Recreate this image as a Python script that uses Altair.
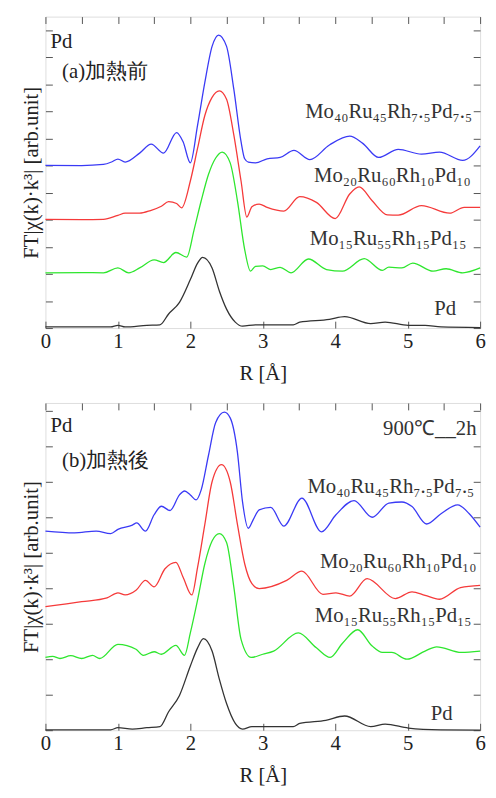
import altair as alt
import pandas as pd

FONT = "Liberation Serif"
SERIES = ["Mo40Ru45Rh7.5Pd7.5", "Mo20Ru60Rh10Pd10", "Mo15Ru55Rh15Pd15", "Pd"]
COLORS = ["#3a3af5", "#f53a3a", "#2ee62e", "#333333"]

# ---------------- (a) before heating ----------------
a_blue_r = [0, 0.5, 0.8, 0.92, 1.0, 1.1, 1.3, 1.46, 1.63, 1.81, 1.9, 2.0, 2.1, 2.2, 2.3, 2.39, 2.5, 2.6, 2.7, 2.75, 2.8, 2.9, 3.06, 3.24, 3.43, 3.65, 3.92, 4.2, 4.38, 4.6, 4.87, 5.19, 5.44, 5.76, 6.0]
a_blue_y = [6.01, 6.0, 6.04, 6.14, 6.24, 6.13, 6.46, 6.79, 6.46, 7.22, 6.88, 6.1, 7.49, 9.07, 10.4, 10.82, 10.4, 8.82, 6.88, 6.25, 6.13, 6.1, 6.25, 6.3, 6.56, 6.22, 6.76, 7.09, 6.82, 6.3, 6.6, 6.42, 6.5, 6.19, 6.73]

a_red_r = [0, 0.5, 0.8, 1.0, 1.1, 1.3, 1.45, 1.6, 1.7, 1.81, 1.88, 2.0, 2.1, 2.2, 2.3, 2.4, 2.5, 2.6, 2.7, 2.78, 2.85, 2.95, 3.06, 3.29, 3.51, 3.74, 4.0, 4.2, 4.33, 4.51, 4.72, 4.87, 5.19, 5.58, 5.78, 6.0]
a_red_y = [4.01, 4.0, 4.01, 4.16, 4.24, 4.24, 4.34, 4.5, 4.67, 4.6, 4.44, 5.43, 6.64, 7.85, 8.52, 8.76, 8.45, 7.13, 5.43, 4.1, 4.48, 4.58, 4.46, 4.32, 4.85, 4.64, 4.04, 4.95, 5.21, 4.7, 4.18, 4.17, 4.52, 4.24, 4.46, 4.46]

a_green_r = [0, 0.5, 0.8, 1.0, 1.15, 1.3, 1.5, 1.63, 1.8, 1.95, 2.05, 2.15, 2.25, 2.35, 2.44, 2.55, 2.65, 2.75, 2.83, 2.9, 3.0, 3.11, 3.24, 3.39, 3.63, 3.88, 4.1, 4.4, 4.65, 4.74, 4.92, 5.07, 5.35, 5.53, 5.76, 6.0]
a_green_y = [2.04, 2.05, 2.04, 2.22, 2.04, 2.22, 2.52, 2.42, 2.79, 2.62, 3.61, 4.7, 5.67, 6.28, 6.5, 6.1, 4.7, 2.9, 2.1, 2.28, 2.3, 2.16, 2.24, 2.04, 2.55, 2.16, 2.1, 2.56, 2.13, 2.25, 2.22, 2.4, 2.1, 2.19, 2.04, 2.22]

a_black_r = [0, 0.9, 1.0, 1.1, 1.4, 1.58, 1.7, 1.85, 2.0, 2.1, 2.17, 2.3, 2.4, 2.5, 2.62, 2.72, 2.9, 3.42, 3.51, 3.92, 4.13, 4.49, 4.69, 5.01, 5.24, 5.46, 6.0]
a_black_y = [0.04, 0.04, 0.1, 0.04, 0.1, 0.12, 0.52, 0.95, 1.79, 2.4, 2.61, 2.22, 1.37, 0.7, 0.22, 0.07, 0.12, 0.12, 0.22, 0.32, 0.42, 0.16, 0.22, 0.1, 0.1, 0.04, 0.02]

# ---------------- (b) after heating ----------------
b_blue_r = [0, 0.4, 0.7, 0.9, 1.0, 1.2, 1.26, 1.38, 1.5, 1.6, 1.72, 1.85, 1.92, 2.0, 2.08, 2.15, 2.25, 2.35, 2.47, 2.55, 2.65, 2.72, 2.8, 2.87, 2.95, 3.11, 3.29, 3.54, 3.81, 4.01, 4.26, 4.51, 4.74, 4.92, 5.06, 5.26, 5.46, 5.69, 5.85, 6.0]
b_blue_y = [5.61, 5.56, 5.61, 5.54, 5.66, 5.78, 5.84, 5.61, 6.07, 6.31, 6.19, 6.63, 6.74, 6.63, 6.49, 6.77, 7.74, 8.67, 8.96, 8.8, 7.83, 6.44, 5.69, 5.94, 6.21, 6.28, 5.75, 6.54, 5.59, 6.07, 6.47, 6.0, 6.4, 6.43, 6.3, 5.81, 6.1, 6.35, 6.1, 5.72]

b_red_r = [0, 0.5, 0.85, 1.0, 1.1, 1.25, 1.38, 1.5, 1.65, 1.8, 1.9, 2.02, 2.1, 2.2, 2.3, 2.43, 2.55, 2.65, 2.75, 2.85, 2.95, 3.33, 3.54, 3.83, 4.01, 4.2, 4.44, 4.83, 5.06, 5.24, 5.44, 5.73, 6.0]
b_red_y = [3.48, 3.62, 3.73, 3.87, 3.81, 3.94, 4.22, 4.04, 4.55, 4.73, 4.31, 3.81, 4.59, 5.8, 7.0, 7.48, 7.0, 5.8, 4.69, 4.13, 3.99, 4.22, 4.48, 3.83, 3.87, 3.78, 4.27, 3.71, 3.9, 3.8, 3.69, 4.02, 4.08]

b_green_r = [0, 0.1, 0.2, 0.35, 0.5, 0.65, 0.75, 1.0, 1.25, 1.35, 1.5, 1.6, 1.8, 1.92, 2.0, 2.1, 2.2, 2.3, 2.4, 2.5, 2.6, 2.7, 2.84, 3.0, 3.15, 3.49, 3.74, 3.93, 4.1, 4.31, 4.51, 4.65, 4.78, 4.99, 5.24, 5.4, 5.74, 6.0]
b_green_y = [2.05, 2.08, 2.02, 2.1, 2.02, 2.11, 2.02, 2.42, 2.28, 2.11, 2.21, 2.14, 2.39, 2.11, 2.74, 3.67, 4.69, 5.33, 5.54, 5.29, 4.04, 2.56, 2.05, 2.14, 2.23, 2.74, 2.32, 2.05, 2.45, 2.83, 2.37, 2.19, 2.19, 2.0, 2.23, 2.35, 2.19, 2.23]

b_black_r = [0, 0.9, 1.0, 1.2, 1.4, 1.58, 1.7, 1.85, 2.0, 2.1, 2.18, 2.3, 2.4, 2.5, 2.62, 2.72, 2.85, 3.42, 3.51, 3.87, 4.13, 4.49, 4.69, 5.01, 5.46, 6.0]
b_black_y = [0.01, 0.01, 0.07, 0.03, 0.07, 0.1, 0.52, 0.98, 1.81, 2.32, 2.58, 2.23, 1.44, 0.75, 0.19, 0.03, 0.1, 0.1, 0.19, 0.28, 0.4, 0.1, 0.17, 0.06, 0.01, 0.0]

# ---------------- annotations ----------------
series_labels = ["Mo₄₀Ru₄₅Rh₇.₅Pd₇.₅", "Mo₂₀Ru₆₀Rh₁₀Pd₁₀", "Mo₁₅Ru₅₅Rh₁₅Pd₁₅", "Pd"]
a_label_r = [5.89, 5.87, 5.81, 5.67]
a_label_y = [7.75, 5.38, 3.05, 0.47]
b_label_r = [5.92, 5.95, 5.88, 5.62]
b_label_y = [6.67, 4.56, 3.06, 0.28]

a_corner_text = ["Pd", "(a)加熱前"]
a_corner_r = [0.07, 0.23]
a_corner_y = [10.33, 9.24]
b_corner_text = ["Pd", "(b)加熱後"]
b_corner_r = [0.07, 0.23]
b_corner_y = [8.39, 7.42]
b_right_text = ["900℃__2h"]
b_right_r = [5.95]
b_right_y = [8.33]

X_TICKS = [i * 0.5 for i in range(13)]
TICK = 7


def curves_df(pairs):
    rows = []
    for name, (rs, ys) in zip(SERIES, pairs):
        for i, (r, y) in enumerate(zip(rs, ys)):
            rows.append({"series": name, "R": r, "v": y, "i": i})
    return pd.DataFrame(rows)


def panel(pairs, ymax, height, labels_r, labels_y, left_t, left_r, left_y,
          right_t=None, right_r=None, right_y=None):
    xs = alt.Scale(domain=[0, 6], nice=False, zero=False)
    ys = alt.Scale(domain=[0, ymax], nice=False, zero=False)
    y_ticks = list(range(0, int(ymax) + 1))

    x_bottom = alt.Axis(values=X_TICKS, labelExpr="datum.value % 1 == 0 ? datum.label : ''",
                        format="d",
                        tickSize=TICK, offset=-TICK, domain=False, grid=False,
                        labelFont=FONT, labelFontSize=21, labelColor="#222",
                        labelPadding=3, labelFlush=False, labelOverlap=False,
                        tickColor="#555", title="R [Å]", titleFont=FONT,
                        titleFontSize=21, titleFontWeight="normal", titleColor="#222",
                        titlePadding=11)
    y_left = alt.Axis(values=y_ticks, labels=False, tickSize=TICK, offset=-TICK, domain=False,
                      grid=False, tickColor="#555", title="FT|χ(k)·k³| [arb.unit]",
                      titleFont=FONT, titleFontSize=21, titleFontWeight="normal",
                      titleColor="#222", titlePadding=4)
    x_top = alt.Axis(orient="top", values=X_TICKS, labels=False, tickSize=TICK, offset=-TICK,
                     domain=False, grid=False, tickColor="#555", title=None)
    y_right = alt.Axis(orient="right", values=y_ticks, labels=False, tickSize=TICK, offset=-TICK,
                       domain=False, grid=False, tickColor="#555", title=None)

    df = curves_df(pairs)
    lines = alt.Chart(df).mark_line(strokeWidth=1.3, interpolate="monotone").encode(
        x=alt.X("R:Q", scale=xs, axis=x_bottom),
        y=alt.Y("v:Q", scale=ys, axis=y_left),
        color=alt.Color("series:N", scale=alt.Scale(domain=SERIES, range=COLORS), legend=None),
        order="i:Q",
    )

    lab_df = pd.DataFrame({"R": labels_r, "v": labels_y, "t": series_labels})
    labels = alt.Chart(lab_df).mark_text(align="right", baseline="alphabetic", font=FONT,
                                         fontSize=21, color="#333").encode(
        x=alt.X("R:Q", scale=xs, axis=x_top),
        y=alt.Y("v:Q", scale=ys, axis=y_right),
        text="t:N",
    )

    left_df = pd.DataFrame({"R": left_r, "v": left_y, "t": left_t})
    left = alt.Chart(left_df).mark_text(align="left", baseline="alphabetic", font=FONT,
                                        fontSize=21, color="#222").encode(
        x=alt.X("R:Q", scale=xs, axis=None), y=alt.Y("v:Q", scale=ys, axis=None), text="t:N")

    layers = [lines, labels, left]
    if right_t:
        rdf = pd.DataFrame({"R": right_r, "v": right_y, "t": right_t})
        layers.append(alt.Chart(rdf).mark_text(align="right", baseline="alphabetic", font=FONT,
                                               fontSize=21, color="#333").encode(
            x=alt.X("R:Q", scale=xs, axis=None), y=alt.Y("v:Q", scale=ys, axis=None), text="t:N"))

    return alt.layer(*layers).resolve_axis(x="independent", y="independent").properties(
        width=441, height=height)


top = panel([(a_blue_r, a_blue_y), (a_red_r, a_red_y), (a_green_r, a_green_y), (a_black_r, a_black_y)],
            11.5, 316, a_label_r, a_label_y, a_corner_text, a_corner_r, a_corner_y)
bottom = panel([(b_blue_r, b_blue_y), (b_red_r, b_red_y), (b_green_r, b_green_y), (b_black_r, b_black_y)],
               9.22, 332, b_label_r, b_label_y, b_corner_text, b_corner_r, b_corner_y,
               b_right_text, b_right_r, b_right_y)

chart = alt.vconcat(top, bottom, spacing=18).properties(
    padding={"left": 12, "top": 2, "right": 2, "bottom": 2}
).configure_view(stroke="#555", strokeWidth=1.2).configure(background="white")

chart.save("out.html", embed_options={"renderer": "svg", "actions": False})
